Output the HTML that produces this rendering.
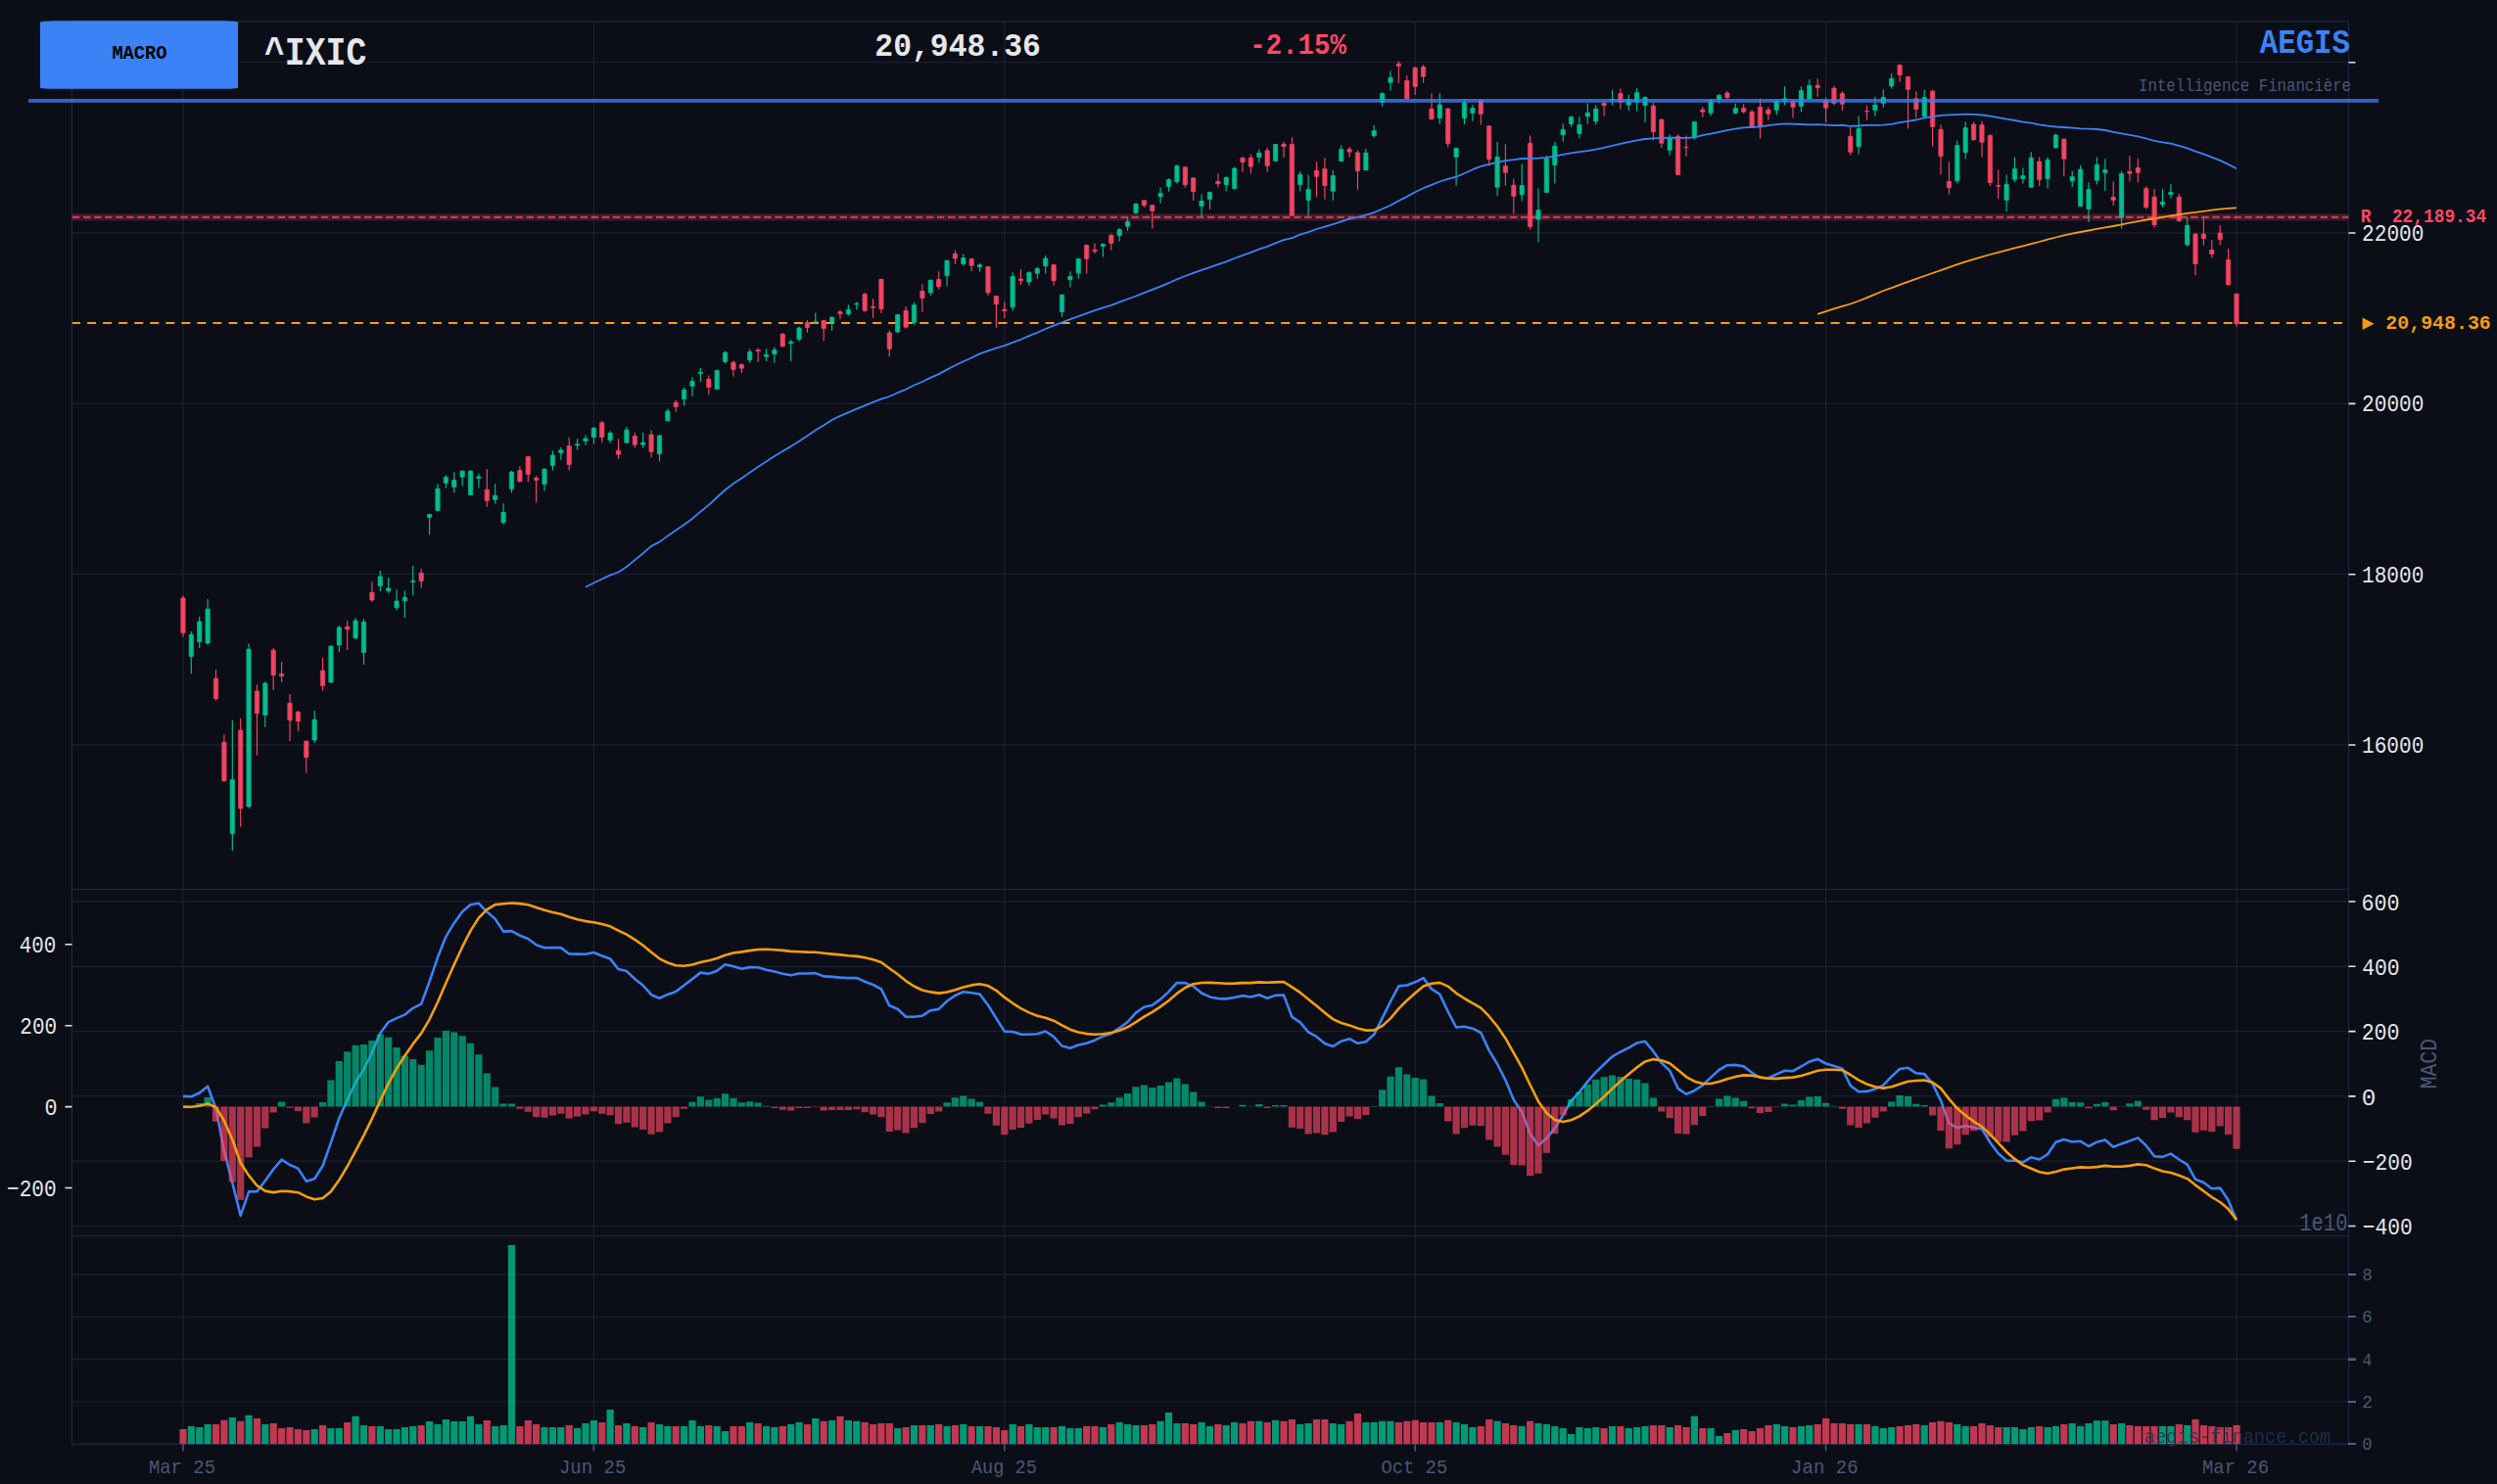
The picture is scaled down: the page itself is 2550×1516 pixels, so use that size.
<!DOCTYPE html>
<html><head><meta charset="utf-8"><style>html,body{margin:0;padding:0;background:#0b0e17;}svg{display:block}</style></head>
<body><svg width="2550" height="1516" viewBox="0 0 2550 1516">
<rect x="0" y="0" width="2550" height="1516" fill="#0b0e17"/>
<defs><clipPath id="c1"><rect x="73.5" y="22.0" width="2325.0" height="886.5"/></clipPath><clipPath id="c2"><rect x="73.5" y="908.5" width="2325.0" height="354.0"/></clipPath><clipPath id="c3"><rect x="73.5" y="1262.5" width="2325.0" height="213.0"/></clipPath></defs>
<path d="M73.5 63.7H2398.5M73.5 238.0H2398.5M73.5 412.4H2398.5M73.5 586.7H2398.5M73.5 761.0H2398.5M73.5 921.0H2398.5M73.5 987.3H2398.5M73.5 1053.6H2398.5M73.5 1119.9H2398.5M73.5 1186.2H2398.5M73.5 1252.5H2398.5M73.5 1475.2H2398.5M73.5 1431.9H2398.5M73.5 1388.6H2398.5M73.5 1345.3H2398.5M73.5 1302.0H2398.5M187.0 22.0V908.5M187.0 908.5V1262.5M187.0 1262.5V1475.5M606.4 22.0V908.5M606.4 908.5V1262.5M606.4 1262.5V1475.5M1025.8 22.0V908.5M1025.8 908.5V1262.5M1025.8 1262.5V1475.5M1445.2 22.0V908.5M1445.2 908.5V1262.5M1445.2 1262.5V1475.5M1864.6 22.0V908.5M1864.6 908.5V1262.5M1864.6 1262.5V1475.5M2284.0 22.0V908.5M2284.0 908.5V1262.5M2284.0 1262.5V1475.5" stroke="#1b1f2e" stroke-width="1.3" fill="none"/>
<rect x="73.5" y="22.0" width="2325.0" height="886.5" fill="none" stroke="#1d2544" stroke-width="1.2"/>
<rect x="73.5" y="908.5" width="2325.0" height="354.0" fill="none" stroke="#1d2544" stroke-width="1.2"/>
<rect x="73.5" y="1262.5" width="2325.0" height="213.0" fill="none" stroke="#1d2544" stroke-width="1.2"/>
<g clip-path="url(#c1)">
<rect x="73.5" y="218.4" width="2325.0" height="7" fill="#ff4766" fill-opacity="0.22"/>
<path d="M73.5 221.9H2398.5" stroke="#ff4766" stroke-opacity="0.72" stroke-width="2.1" stroke-dasharray="7.4 3.637" stroke-dashoffset="-0.5"/>
<path d="M73.5 330.0H2396" stroke="#f59e0b" stroke-width="2.2" stroke-dasharray="9 7.041" stroke-dashoffset="0.46"/>
<path d="M195.3 645.1V688.2M203.7 630.1V661.9M212.1 611.9V658.8M237.3 735.7V869.1M254.1 657.2V825.6M270.8 696.2V742.7M321.2 726.0V758.9M337.9 659.2V697.7M346.3 639.0V665.9M363.1 630.9V652.8M371.5 632.2V679.1M388.3 583.0V603.9M396.7 590.1V605.9M405.1 602.2V623.5M413.4 603.2V630.9M421.8 578.0V607.9M438.6 524.7V546.3M447.0 494.3V522.6M455.4 485.3V498.6M463.8 482.3V503.4M472.2 480.6V496.4M480.5 480.2V506.0M488.9 484.1V498.5M505.7 494.3V514.8M514.1 514.2V535.8M522.5 480.9V503.4M556.0 478.3V501.6M564.4 460.4V480.6M572.8 456.9V469.7M589.6 448.2V459.6M598.0 444.2V454.7M606.4 436.4V453.4M623.1 440.3V452.6M639.9 435.9V452.9M656.7 442.0V457.8M673.5 444.2V471.5M681.9 417.5V430.7M698.6 396.1V414.5M707.0 385.3V404.9M715.4 376.0V390.0M732.2 377.7V397.9M740.6 358.5V371.6M765.7 356.2V370.7M782.5 356.2V369.0M790.9 354.4V370.7M807.7 347.1V369.0M816.1 333.4V348.8M832.8 319.4V329.6M849.6 322.9V338.0M866.4 311.2V322.6M874.8 308.2V315.9M916.7 320.8V340.4M933.5 308.9V331.7M950.3 285.6V301.8M967.1 265.5V292.6M983.8 259.4V271.6M1000.6 269.0V277.7M1034.2 278.3V317.5M1050.9 277.2V291.8M1059.3 272.5V284.8M1067.7 261.1V279.5M1084.5 300.5V323.8M1092.9 277.2V293.5M1101.3 263.7V284.8M1126.4 248.5V262.5M1143.2 233.1V246.7M1151.6 222.6V235.7M1160.0 207.1V218.7M1185.1 191.4V207.7M1193.5 182.3V195.6M1201.9 168.2V187.5M1227.1 198.6V221.3M1235.5 195.6V213.8M1252.2 180.2V195.6M1260.6 170.5V193.8M1285.8 152.5V166.5M1302.6 146.9V164.7M1327.7 175.3V195.6M1336.1 178.4V220.5M1361.3 174.0V204.7M1369.7 148.3V165.3M1394.8 152.1V174.6M1403.2 128.0V140.7M1411.6 94.3V108.7M1420.0 72.4V92.6M1470.3 95.2V126.7M1487.1 150.4V189.8M1495.5 101.3V126.7M1503.9 106.9V123.7M1529.1 145.1V200.3M1554.2 167.5V205.6M1571.0 192.4V247.6M1579.4 158.8V196.8M1587.8 145.1V187.5M1596.2 126.2V144.8M1604.5 118.5V129.7M1612.9 119.2V141.6M1621.3 105.2V126.7M1629.7 107.5V127.6M1646.5 92.2V107.5M1663.3 96.9V112.7M1671.7 89.9V113.6M1680.0 98.2V125.0M1705.2 137.2V158.8M1730.4 123.7V142.5M1747.1 101.3V118.5M1755.5 96.4V105.7M1772.3 105.7V116.7M1814.3 102.2V117.4M1822.6 88.2V107.5M1839.4 88.2V114.5M1847.8 81.2V102.2M1898.1 118.5V157.7M1914.9 98.7V118.8M1923.3 91.2V109.7M1931.7 75.0V90.8M1965.2 91.7V119.7M1998.8 143.4V187.5M2007.2 124.4V162.6M2049.1 178.4V216.1M2057.5 160.5V186.3M2065.9 171.4V187.5M2074.3 155.3V192.1M2091.1 160.5V192.4M2099.4 136.4V151.8M2116.2 174.6V191.0M2124.6 168.8V211.3M2133.0 186.3V227.1M2141.4 160.5V188.6M2149.8 162.3V195.1M2166.6 174.6V233.6M2208.5 193.1V211.7M2216.9 188.0V202.8M2233.7 222.0V251.7" stroke="#00c896" stroke-width="1.1" fill="none"/>
<path d="M193.15 648.22h4.4v22.45h-4.4zM201.54 634.88h4.4v20.83h-4.4zM209.92 622.15h4.4v34.78h-4.4zM235.09 796.20h4.4v55.40h-4.4zM251.86 663.18h4.4v160.72h-4.4zM268.64 697.95h4.4v32.55h-4.4zM318.97 735.15h4.4v20.83h-4.4zM335.75 660.15h4.4v36.80h-4.4zM344.13 640.95h4.4v18.00h-4.4zM360.91 634.07h4.4v17.59h-4.4zM369.30 635.29h4.4v31.34h-4.4zM386.07 588.99h4.4v9.51h-4.4zM394.46 600.92h4.4v2.63h-4.4zM402.85 614.06h4.4v6.68h-4.4zM411.24 610.22h4.4v3.44h-4.4zM419.63 593.44h4.4v1.02h-4.4zM436.40 525.57h4.4v2.90h-4.4zM444.79 499.29h4.4v22.18h-4.4zM453.18 487.38h4.4v6.06h-4.4zM461.57 490.53h4.4v6.93h-4.4zM469.96 481.24h4.4v6.06h-4.4zM478.34 481.24h4.4v24.28h-4.4zM486.73 487.02h4.4v1.50h-4.4zM503.51 506.30h4.4v4.13h-4.4zM511.90 523.47h4.4v10.26h-4.4zM520.28 482.12h4.4v17.45h-4.4zM553.84 479.14h4.4v15.52h-4.4zM562.22 465.12h4.4v10.26h-4.4zM570.61 459.87h4.4v2.55h-4.4zM587.39 453.74h4.4v1.15h-4.4zM595.78 447.95h4.4v2.55h-4.4zM604.16 437.09h4.4v9.56h-4.4zM620.94 442.35h4.4v7.28h-4.4zM637.72 439.19h4.4v13.07h-4.4zM654.49 452.33h4.4v2.03h-4.4zM671.27 444.98h4.4v18.67h-4.4zM679.66 419.92h4.4v9.91h-4.4zM696.43 398.20h4.4v9.56h-4.4zM704.82 389.44h4.4v5.01h-4.4zM713.21 380.33h4.4v1.15h-4.4zM729.99 378.57h4.4v19.02h-4.4zM738.37 360.00h4.4v9.56h-4.4zM763.54 359.30h4.4v8.51h-4.4zM780.32 362.28h4.4v2.03h-4.4zM788.70 357.38h4.4v4.31h-4.4zM805.48 349.14h4.4v1.50h-4.4zM813.87 335.12h4.4v11.31h-4.4zM830.64 328.64h4.4v0.40h-4.4zM847.42 324.26h4.4v5.01h-4.4zM864.20 316.20h4.4v4.66h-4.4zM872.58 310.25h4.4v0.63h-4.4zM914.52 321.46h4.4v17.45h-4.4zM931.30 311.47h4.4v18.15h-4.4zM948.08 286.28h4.4v12.72h-4.4zM964.85 266.31h4.4v15.17h-4.4zM981.63 263.51h4.4v6.06h-4.4zM998.41 270.52h4.4v2.20h-4.4zM1031.96 282.43h4.4v31.29h-4.4zM1048.73 278.40h4.4v9.56h-4.4zM1057.12 274.55h4.4v4.66h-4.4zM1065.51 264.03h4.4v7.63h-4.4zM1082.29 301.35h4.4v17.27h-4.4zM1090.67 282.43h4.4v3.25h-4.4zM1099.06 264.56h4.4v14.12h-4.4zM1124.23 249.49h4.4v2.03h-4.4zM1141.00 234.60h4.4v6.06h-4.4zM1149.39 226.36h4.4v5.01h-4.4zM1157.78 208.49h4.4v8.86h-4.4zM1182.94 197.46h4.4v3.25h-4.4zM1191.33 183.62h4.4v6.76h-4.4zM1199.72 169.42h4.4v16.04h-4.4zM1224.88 205.34h4.4v5.18h-4.4zM1233.27 196.58h4.4v6.93h-4.4zM1250.05 181.34h4.4v7.28h-4.4zM1258.44 172.05h4.4v20.42h-4.4zM1283.60 156.28h4.4v4.31h-4.4zM1300.38 147.52h4.4v16.92h-4.4zM1325.54 178.18h4.4v10.44h-4.4zM1333.93 193.60h4.4v10.79h-4.4zM1359.09 179.59h4.4v15.69h-4.4zM1367.48 152.43h4.4v12.01h-4.4zM1392.65 156.28h4.4v17.45h-4.4zM1401.03 133.51h4.4v5.18h-4.4zM1409.42 95.49h4.4v9.04h-4.4zM1417.81 79.19h4.4v5.18h-4.4zM1468.14 106.88h4.4v13.77h-4.4zM1484.92 151.55h4.4v9.04h-4.4zM1493.30 104.77h4.4v15.87h-4.4zM1501.69 110.38h4.4v5.01h-4.4zM1526.86 160.31h4.4v30.94h-4.4zM1552.02 189.57h4.4v9.21h-4.4zM1568.80 214.63h4.4v9.39h-4.4zM1577.18 162.07h4.4v34.44h-4.4zM1585.57 149.28h4.4v19.20h-4.4zM1593.96 132.28h4.4v5.53h-4.4zM1602.35 119.49h4.4v6.93h-4.4zM1610.74 127.55h4.4v8.86h-4.4zM1619.13 115.29h4.4v3.60h-4.4zM1627.51 111.26h4.4v12.54h-4.4zM1644.29 101.62h4.4v0.40h-4.4zM1661.07 101.62h4.4v5.53h-4.4zM1669.45 94.61h4.4v9.91h-4.4zM1677.84 99.52h4.4v8.16h-4.4zM1703.01 140.52h4.4v13.07h-4.4zM1728.17 124.40h4.4v15.52h-4.4zM1744.95 102.50h4.4v12.89h-4.4zM1753.33 97.24h4.4v4.66h-4.4zM1770.11 110.38h4.4v5.01h-4.4zM1812.05 103.37h4.4v9.04h-4.4zM1820.44 100.74h4.4v2.90h-4.4zM1837.22 92.51h4.4v15.87h-4.4zM1845.60 87.25h4.4v13.77h-4.4zM1895.93 131.40h4.4v18.32h-4.4zM1912.71 107.23h4.4v5.18h-4.4zM1921.10 99.52h4.4v5.88h-4.4zM1929.48 80.25h4.4v7.63h-4.4zM1963.04 99.52h4.4v19.37h-4.4zM1996.59 148.57h4.4v36.19h-4.4zM2004.98 130.53h4.4v25.15h-4.4zM2046.92 188.35h4.4v16.04h-4.4zM2055.31 172.58h4.4v10.79h-4.4zM2063.69 179.59h4.4v2.90h-4.4zM2072.08 161.19h4.4v30.06h-4.4zM2088.86 163.29h4.4v19.20h-4.4zM2097.25 138.06h4.4v12.89h-4.4zM2114.02 180.46h4.4v4.31h-4.4zM2122.41 173.10h4.4v37.42h-4.4zM2130.80 193.60h4.4v19.90h-4.4zM2139.19 168.20h4.4v16.04h-4.4zM2147.58 173.45h4.4v2.90h-4.4zM2164.35 177.31h4.4v44.95h-4.4zM2206.29 206.43h4.4v2.40h-4.4zM2214.68 196.42h4.4v2.40h-4.4zM2231.46 230.34h4.4v19.64h-4.4z" fill="#00c896" fill-opacity="0.9" stroke="#00c896" stroke-width="0.6"/>
<path d="M187.0 608.3V650.8M220.5 684.1V715.8M228.9 750.2V798.7M245.7 734.0V844.8M262.5 699.3V771.6M279.2 661.9V704.9M287.6 676.2V696.8M296.0 709.0V756.9M304.4 726.0V746.8M312.8 756.3V789.8M329.6 672.0V705.7M354.7 634.2V663.9M379.9 594.2V614.8M430.2 581.0V600.6M497.3 479.2V517.7M530.9 476.2V492.9M539.3 466.2V492.5M547.6 486.2V513.5M581.2 447.0V480.6M614.8 430.1V452.6M631.5 448.2V468.7M648.3 442.0V457.5M665.1 439.4V467.5M690.2 408.4V420.7M723.8 383.5V403.5M749.0 368.5V384.8M757.4 371.3V380.7M774.1 355.5V369.9M799.3 340.1V354.4M824.5 326.9V339.7M841.2 326.9V348.0M858.0 316.4V325.7M883.2 298.9V318.7M891.6 305.0V324.7M899.9 284.9V319.9M908.3 337.5V364.6M925.1 312.9V335.7M941.9 290.5V318.9M958.7 277.2V295.8M975.4 255.5V269.9M992.2 263.7V276.9M1009.0 272.0V301.8M1017.4 301.8V334.7M1025.8 308.4V325.1M1042.5 275.1V290.9M1076.1 269.9V291.8M1109.7 249.7V279.5M1118.0 248.5V259.0M1134.8 238.7V255.8M1168.4 204.2V211.7M1176.8 208.9V233.4M1210.3 170.0V191.5M1218.7 181.0V204.7M1243.9 177.5V191.5M1269.0 160.5V175.8M1277.4 157.4V177.5M1294.2 150.7V175.8M1311.0 145.1V160.9M1319.4 140.2V220.8M1344.5 165.3V201.2M1352.9 161.2V203.8M1378.1 150.0V160.5M1386.5 153.5V193.8M1428.4 62.4V84.7M1436.8 77.1V101.0M1445.2 68.0V96.9M1453.6 66.3V84.7M1462.0 95.2V122.3M1478.7 110.1V150.4M1512.3 101.7V127.6M1520.7 128.0V169.6M1537.4 147.2V189.8M1545.8 182.8V218.4M1562.6 138.5V234.5M1638.1 103.1V118.8M1654.9 90.5V111.5M1688.4 104.8V143.4M1696.8 120.9V150.7M1713.6 137.2V179.3M1722.0 138.5V160.0M1738.8 109.2V119.7M1763.9 92.9V101.0M1780.7 106.2V115.7M1789.1 112.2V130.8M1797.5 100.4V141.6M1805.9 109.2V122.7M1831.0 102.2V120.6M1856.2 80.6V98.7M1864.6 99.6V125.0M1873.0 87.7V107.5M1881.4 92.9V112.7M1889.7 130.2V158.8M1906.5 107.5V122.7M1940.1 65.4V83.8M1948.5 77.7V131.5M1956.8 93.4V120.6M1973.6 91.7V149.5M1982.0 127.6V178.4M1990.4 165.3V198.6M2015.6 124.4V143.7M2024.0 123.7V160.5M2032.3 137.2V190.3M2040.7 173.5V203.3M2082.7 160.5V190.3M2107.8 141.3V180.2M2158.2 185.4V209.9M2174.9 159.1V185.4M2183.3 162.3V186.3M2191.7 190.3V213.4M2200.1 193.1V232.8M2225.3 198.0V226.7M2242.0 238.0V281.0M2250.4 222.0V250.6M2258.8 245.1V263.6M2267.2 230.0V250.6M2275.6 253.9V291.8M2284.0 299.9V333.7" stroke="#ff4766" stroke-width="1.1" fill="none"/>
<path d="M184.76 611.03h4.4v35.38h-4.4zM218.31 693.10h4.4v20.63h-4.4zM226.70 758.20h4.4v39.43h-4.4zM243.48 746.07h4.4v79.86h-4.4zM260.25 706.04h4.4v22.65h-4.4zM277.03 664.19h4.4v25.68h-4.4zM285.42 688.45h4.4v2.23h-4.4zM293.81 718.37h4.4v17.39h-4.4zM302.19 727.27h4.4v9.51h-4.4zM310.58 757.19h4.4v16.58h-4.4zM327.36 685.02h4.4v15.57h-4.4zM352.52 640.14h4.4v2.63h-4.4zM377.69 605.37h4.4v7.69h-4.4zM428.01 585.35h4.4v8.09h-4.4zM495.12 500.17h4.4v11.31h-4.4zM528.67 480.54h4.4v11.14h-4.4zM537.06 466.53h4.4v17.97h-4.4zM545.45 488.25h4.4v2.20h-4.4zM579.00 455.49h4.4v19.02h-4.4zM612.55 431.84h4.4v14.82h-4.4zM629.33 460.22h4.4v3.96h-4.4zM646.11 445.50h4.4v8.86h-4.4zM662.88 444.10h4.4v17.27h-4.4zM688.05 411.34h4.4v4.13h-4.4zM721.60 387.33h4.4v8.16h-4.4zM746.76 370.17h4.4v7.28h-4.4zM755.15 372.44h4.4v3.78h-4.4zM771.93 357.55h4.4v1.15h-4.4zM797.09 341.26h4.4v12.54h-4.4zM822.26 329.52h4.4v5.01h-4.4zM839.03 327.42h4.4v8.16h-4.4zM855.81 318.48h4.4v2.03h-4.4zM880.97 300.43h4.4v16.92h-4.4zM889.36 313.22h4.4v1.15h-4.4zM897.75 285.37h4.4v30.24h-4.4zM906.14 340.03h4.4v16.39h-4.4zM922.91 317.25h4.4v16.92h-4.4zM939.69 297.32h4.4v7.28h-4.4zM956.47 285.58h4.4v7.11h-4.4zM973.24 259.30h4.4v4.66h-4.4zM990.02 264.56h4.4v6.76h-4.4zM1006.79 272.44h4.4v26.56h-4.4zM1015.18 302.58h4.4v8.16h-4.4zM1023.57 316.07h4.4v1.33h-4.4zM1040.35 285.06h4.4v1.68h-4.4zM1073.90 270.52h4.4v16.22h-4.4zM1107.45 250.54h4.4v13.77h-4.4zM1115.84 255.27h4.4v1.50h-4.4zM1132.62 240.38h4.4v8.16h-4.4zM1166.17 204.81h4.4v4.83h-4.4zM1174.56 209.72h4.4v5.88h-4.4zM1208.11 170.83h4.4v17.80h-4.4zM1216.50 181.86h4.4v13.77h-4.4zM1241.66 185.37h4.4v2.38h-4.4zM1266.82 161.19h4.4v4.31h-4.4zM1275.21 161.19h4.4v9.04h-4.4zM1291.99 153.83h4.4v15.52h-4.4zM1308.77 147.17h4.4v2.55h-4.4zM1317.15 147.52h4.4v72.63h-4.4zM1342.32 174.33h4.4v5.88h-4.4zM1350.71 172.58h4.4v16.92h-4.4zM1375.87 152.43h4.4v2.90h-4.4zM1384.26 155.93h4.4v18.67h-4.4zM1426.20 65.18h4.4v2.20h-4.4zM1434.59 82.35h4.4v18.32h-4.4zM1442.97 69.21h4.4v19.20h-4.4zM1451.36 68.33h4.4v9.91h-4.4zM1459.75 111.26h4.4v10.44h-4.4zM1476.53 111.26h4.4v35.32h-4.4zM1510.08 102.50h4.4v13.94h-4.4zM1518.47 128.78h4.4v33.91h-4.4zM1535.24 169.60h4.4v6.76h-4.4zM1543.63 189.22h4.4v11.31h-4.4zM1560.41 146.30h4.4v85.25h-4.4zM1635.90 105.48h4.4v2.20h-4.4zM1652.68 95.49h4.4v8.69h-4.4zM1686.23 108.28h4.4v26.38h-4.4zM1694.62 122.29h4.4v23.93h-4.4zM1711.39 139.29h4.4v39.17h-4.4zM1719.78 150.33h4.4v0.40h-4.4zM1736.56 112.13h4.4v2.03h-4.4zM1761.72 94.96h4.4v4.66h-4.4zM1778.50 110.38h4.4v3.78h-4.4zM1786.89 114.24h4.4v16.22h-4.4zM1795.28 109.50h4.4v20.42h-4.4zM1803.66 112.13h4.4v4.31h-4.4zM1828.83 103.72h4.4v5.71h-4.4zM1853.99 87.25h4.4v2.38h-4.4zM1862.38 102.50h4.4v7.63h-4.4zM1870.77 90.23h4.4v15.17h-4.4zM1879.16 95.49h4.4v10.79h-4.4zM1887.54 139.29h4.4v16.04h-4.4zM1904.32 113.53h4.4v0.40h-4.4zM1937.87 66.58h4.4v9.91h-4.4zM1946.26 78.49h4.4v12.89h-4.4zM1954.65 100.74h4.4v10.79h-4.4zM1971.43 93.21h4.4v36.19h-4.4zM1979.81 132.28h4.4v27.43h-4.4zM1988.20 185.37h4.4v6.41h-4.4zM2013.37 127.02h4.4v15.69h-4.4zM2021.75 127.55h4.4v17.62h-4.4zM2030.14 138.41h4.4v48.11h-4.4zM2038.53 189.57h4.4v0.80h-4.4zM2080.47 165.04h4.4v18.67h-4.4zM2105.63 142.27h4.4v20.07h-4.4zM2155.96 201.49h4.4v2.90h-4.4zM2172.74 175.21h4.4v2.03h-4.4zM2181.13 171.35h4.4v5.01h-4.4zM2189.52 192.38h4.4v19.37h-4.4zM2197.90 201.21h4.4v28.53h-4.4zM2223.07 201.21h4.4v24.31h-4.4zM2239.84 239.23h4.4v30.31h-4.4zM2248.23 239.23h4.4v4.40h-4.4zM2256.62 255.36h4.4v4.18h-4.4zM2265.01 238.12h4.4v6.63h-4.4zM2273.40 265.37h4.4v25.53h-4.4zM2281.79 300.17h4.4v30.54h-4.4z" fill="#ff4766" fill-opacity="0.9" stroke="#ff4766" stroke-width="0.6"/>
<polyline points="598.0,599.7 606.4,595.5 614.8,591.5 623.1,587.6 631.5,584.5 639.9,579.0 648.3,572.1 656.7,565.2 665.1,557.9 673.5,553.6 681.9,547.4 690.2,541.7 698.6,535.9 707.0,529.9 715.4,522.7 723.8,515.9 732.2,508.0 740.6,500.5 749.0,494.0 757.4,488.4 765.7,482.7 774.1,477.0 782.5,471.6 790.9,466.1 799.3,460.9 807.7,456.1 816.1,450.8 824.5,445.2 832.8,439.5 841.2,434.4 849.6,429.0 858.0,424.9 866.4,421.3 874.8,417.7 883.2,414.3 891.6,410.9 899.9,407.6 908.3,405.0 916.7,401.2 925.1,397.8 933.5,393.5 941.9,390.0 950.3,385.9 958.7,382.1 967.1,377.6 975.4,373.3 983.8,369.2 992.2,365.5 1000.6,361.4 1009.0,358.3 1017.4,355.6 1025.8,353.2 1034.2,349.9 1042.5,346.8 1050.9,343.1 1059.3,339.8 1067.7,336.0 1076.1,332.7 1084.5,329.4 1092.9,326.2 1101.3,323.1 1109.7,320.1 1118.0,317.2 1126.4,314.4 1134.8,311.8 1143.2,308.6 1151.6,305.5 1160.0,302.5 1168.4,299.2 1176.8,295.9 1185.1,292.7 1193.5,289.2 1201.9,285.3 1210.3,282.0 1218.7,278.8 1227.1,275.9 1235.5,273.2 1243.9,270.2 1252.2,267.3 1260.6,264.0 1269.0,260.8 1277.4,257.8 1285.8,254.6 1294.2,251.8 1302.6,248.4 1311.0,245.1 1319.4,243.2 1327.7,239.6 1336.1,237.1 1344.5,234.0 1352.9,231.6 1361.3,229.1 1369.7,226.4 1378.1,223.6 1386.5,221.8 1394.8,219.7 1403.2,217.1 1411.6,213.5 1420.0,209.7 1428.4,205.1 1436.8,200.9 1445.2,196.3 1453.6,192.2 1462.0,188.9 1470.3,185.5 1478.7,182.9 1487.1,180.7 1495.5,177.0 1503.9,173.2 1512.3,169.9 1520.7,167.9 1529.1,165.8 1537.4,164.2 1545.8,163.2 1554.2,162.0 1562.6,162.0 1571.0,161.7 1579.4,160.8 1587.8,159.6 1596.2,157.9 1604.5,156.4 1612.9,155.2 1621.3,154.1 1629.7,152.6 1638.1,150.8 1646.5,148.8 1654.9,146.9 1663.3,145.2 1671.7,143.4 1680.0,142.0 1688.4,141.4 1696.8,140.9 1705.2,140.6 1713.6,140.8 1722.0,140.8 1730.4,140.3 1738.8,138.2 1747.1,136.7 1755.5,134.8 1763.9,133.1 1772.3,131.6 1780.7,130.3 1789.1,129.8 1797.5,129.3 1805.9,128.2 1814.3,127.1 1822.6,126.4 1831.0,126.7 1839.4,127.0 1847.8,127.4 1856.2,127.2 1864.6,127.6 1873.0,128.1 1881.4,127.8 1889.7,128.8 1898.1,128.5 1906.5,127.8 1914.9,127.8 1923.3,127.6 1931.7,126.9 1940.1,125.1 1948.5,123.8 1956.8,122.5 1965.2,120.4 1973.6,119.2 1982.0,117.8 1990.4,117.4 1998.8,117.1 2007.2,116.7 2015.6,116.9 2024.0,117.5 2032.3,118.7 2040.7,120.2 2049.1,121.7 2057.5,123.0 2065.9,124.6 2074.3,125.7 2082.7,127.3 2091.1,128.7 2099.4,129.5 2107.8,130.0 2116.2,130.7 2124.6,131.4 2133.0,131.6 2141.4,132.0 2149.8,133.0 2158.2,134.8 2166.6,136.3 2174.9,137.9 2183.3,139.4 2191.7,141.5 2200.1,143.8 2208.5,145.3 2216.9,146.6 2225.3,148.8 2233.7,151.3 2242.0,154.7 2250.4,157.4 2258.8,160.7 2267.2,163.9 2275.6,167.9 2284.0,172.3" fill="none" stroke="#3b82f6" stroke-width="1.8" stroke-linejoin="round"/>
<polyline points="1856.2,320.8 1864.6,318.1 1873.0,315.4 1881.4,312.8 1889.7,310.5 1898.1,307.5 1906.5,304.1 1914.9,300.7 1923.3,297.0 1931.7,294.1 1940.1,290.9 1948.5,287.8 1956.8,284.9 1965.2,282.0 1973.6,279.0 1982.0,276.1 1990.4,273.2 1998.8,270.2 2007.2,267.4 2015.6,264.8 2024.0,262.3 2032.3,260.0 2040.7,257.8 2049.1,255.6 2057.5,253.4 2065.9,251.3 2074.3,249.1 2082.7,247.0 2091.1,244.7 2099.4,242.5 2107.8,240.3 2116.2,238.6 2124.6,237.0 2133.0,235.5 2141.4,233.9 2149.8,232.3 2158.2,231.0 2166.6,229.4 2174.9,227.7 2183.3,226.1 2191.7,224.5 2200.1,223.3 2208.5,221.8 2216.9,220.4 2225.3,219.1 2233.7,217.8 2242.0,216.9 2250.4,215.8 2258.8,214.7 2267.2,213.7 2275.6,212.9 2284.0,212.4" fill="none" stroke="#f59e0b" stroke-width="1.8" stroke-linejoin="round"/>
</g>
<g clip-path="url(#c2)">
<polyline points="187.0,1119.9 195.3,1120.3 203.7,1116.5 212.1,1109.7 220.5,1132.5 228.9,1175.7 237.3,1208.2 245.7,1241.9 254.1,1217.4 262.5,1217.1 270.8,1206.3 279.2,1194.5 287.6,1184.7 296.0,1190.0 304.4,1193.6 312.8,1206.8 321.2,1204.3 329.6,1191.0 337.9,1167.4 346.3,1142.5 354.7,1123.5 363.1,1105.7 371.5,1092.4 379.9,1075.6 388.3,1055.5 396.7,1044.1 405.1,1040.1 413.4,1036.6 421.8,1029.8 430.2,1025.6 438.6,1002.7 447.0,978.1 455.4,956.8 463.8,942.9 472.2,931.3 480.5,924.3 488.9,922.8 497.3,931.5 505.7,938.7 514.1,951.6 522.5,951.1 530.9,955.7 539.3,959.0 547.6,965.2 556.0,968.2 564.4,968.1 572.8,968.1 581.2,974.5 589.6,974.6 598.0,974.7 606.4,973.0 614.8,976.5 623.1,979.4 631.5,990.1 639.9,992.1 648.3,1000.0 656.7,1006.7 665.1,1016.2 673.5,1019.7 681.9,1015.9 690.2,1013.0 698.6,1006.5 707.0,1000.1 715.4,993.6 723.8,994.8 732.2,991.8 740.6,985.3 749.0,987.2 757.4,989.8 765.7,988.1 774.1,988.2 782.5,990.7 790.9,992.6 799.3,994.7 807.7,996.2 816.1,994.5 824.5,994.5 832.8,994.1 841.2,997.4 849.6,997.9 858.0,998.6 866.4,999.1 874.8,999.0 883.2,1002.7 891.6,1006.0 899.9,1010.3 908.3,1027.3 916.7,1030.8 925.1,1038.7 933.5,1038.7 941.9,1037.7 950.3,1032.2 958.7,1030.9 967.1,1022.8 975.4,1017.0 983.8,1013.3 992.2,1014.2 1000.6,1015.6 1009.0,1026.8 1017.4,1040.2 1025.8,1053.6 1034.2,1054.0 1042.5,1056.6 1050.9,1056.7 1059.3,1056.3 1067.7,1053.5 1076.1,1059.1 1084.5,1068.5 1092.9,1070.7 1101.3,1067.5 1109.7,1065.8 1118.0,1062.7 1126.4,1058.6 1134.8,1055.9 1143.2,1050.2 1151.6,1044.0 1160.0,1034.6 1168.4,1028.7 1176.8,1026.9 1185.1,1020.9 1193.5,1013.1 1201.9,1004.0 1210.3,1004.1 1218.7,1007.6 1227.1,1014.5 1235.5,1018.4 1243.9,1020.1 1252.2,1020.4 1260.6,1019.0 1269.0,1017.2 1277.4,1018.5 1285.8,1016.2 1294.2,1019.7 1302.6,1016.8 1311.0,1016.6 1319.4,1038.9 1327.7,1044.4 1336.1,1054.3 1344.5,1058.9 1352.9,1066.0 1361.3,1069.0 1369.7,1063.7 1378.1,1061.2 1386.5,1065.8 1394.8,1064.3 1403.2,1056.8 1411.6,1040.2 1420.0,1023.1 1428.4,1007.4 1436.8,1006.5 1445.2,1003.3 1453.6,999.1 1462.0,1010.4 1470.3,1015.7 1478.7,1033.4 1487.1,1049.5 1495.5,1048.8 1503.9,1050.7 1512.3,1055.0 1520.7,1073.1 1529.1,1087.0 1537.4,1103.3 1545.8,1123.5 1554.2,1135.9 1562.6,1158.3 1571.0,1170.1 1579.4,1162.8 1587.8,1152.7 1596.2,1139.3 1604.5,1124.7 1612.9,1115.6 1621.3,1104.9 1629.7,1095.4 1638.1,1087.3 1646.5,1079.4 1654.9,1074.5 1663.3,1070.3 1671.7,1065.5 1680.0,1063.8 1688.4,1073.9 1696.8,1085.9 1705.2,1093.8 1713.6,1111.9 1722.0,1117.7 1730.4,1114.2 1738.8,1108.6 1747.1,1100.6 1755.5,1093.0 1763.9,1088.2 1772.3,1087.9 1780.7,1089.4 1789.1,1095.8 1797.5,1101.0 1805.9,1101.2 1814.3,1097.4 1822.6,1093.8 1831.0,1094.2 1839.4,1089.5 1847.8,1084.5 1856.2,1081.9 1864.6,1086.5 1873.0,1089.1 1881.4,1091.7 1889.7,1109.0 1898.1,1115.2 1906.5,1114.9 1914.9,1112.6 1923.3,1108.6 1931.7,1099.7 1940.1,1092.0 1948.5,1090.8 1956.8,1096.3 1965.2,1097.1 1973.6,1107.2 1982.0,1124.4 1990.4,1147.6 1998.8,1152.2 2007.2,1149.9 2015.6,1151.7 2024.0,1153.4 2032.3,1167.0 2040.7,1178.2 2049.1,1185.6 2057.5,1185.8 2065.9,1187.4 2074.3,1182.2 2082.7,1184.5 2091.1,1179.2 2099.4,1166.7 2107.8,1163.9 2116.2,1166.5 2124.6,1165.8 2133.0,1171.0 2141.4,1166.7 2149.8,1164.4 2158.2,1171.7 2166.6,1168.4 2174.9,1165.5 2183.3,1162.4 2191.7,1170.2 2200.1,1181.2 2208.5,1181.9 2216.9,1178.6 2225.3,1184.5 2233.7,1189.6 2242.0,1204.8 2250.4,1208.0 2258.8,1214.3 2267.2,1213.6 2275.6,1226.1 2284.0,1246.7" fill="none" stroke="#3b82f6" stroke-width="2.6" stroke-linejoin="round"/>
<path d="M183.4 1130.6h7.2v0.0h-7.2zM200.1 1127.1h7.2v3.5h-7.2zM208.5 1121.0h7.2v9.6h-7.2zM284.0 1125.4h7.2v5.2h-7.2zM326.0 1126.1h7.2v4.5h-7.2zM334.3 1103.4h7.2v27.2h-7.2zM342.7 1083.9h7.2v46.7h-7.2zM351.1 1074.2h7.2v56.4h-7.2zM359.5 1067.7h7.2v62.9h-7.2zM367.9 1066.9h7.2v63.7h-7.2zM376.3 1062.9h7.2v67.7h-7.2zM384.7 1056.4h7.2v74.2h-7.2zM393.1 1059.8h7.2v70.8h-7.2zM401.5 1069.9h7.2v60.7h-7.2zM409.8 1078.6h7.2v52.0h-7.2zM418.2 1082.1h7.2v48.5h-7.2zM426.6 1087.7h7.2v42.9h-7.2zM435.0 1073.3h7.2v57.3h-7.2zM443.4 1060.1h7.2v70.5h-7.2zM451.8 1052.9h7.2v77.7h-7.2zM460.2 1054.6h7.2v76.0h-7.2zM468.6 1058.2h7.2v72.4h-7.2zM476.9 1065.7h7.2v64.9h-7.2zM485.3 1077.2h7.2v53.4h-7.2zM493.7 1096.5h7.2v34.1h-7.2zM502.1 1110.5h7.2v20.1h-7.2zM510.5 1127.5h7.2v3.1h-7.2zM518.9 1127.6h7.2v3.0h-7.2zM703.4 1125.8h7.2v4.8h-7.2zM711.8 1120.3h7.2v10.3h-7.2zM720.2 1123.5h7.2v7.1h-7.2zM728.6 1122.0h7.2v8.6h-7.2zM737.0 1117.2h7.2v13.4h-7.2zM745.4 1121.8h7.2v8.8h-7.2zM753.8 1126.2h7.2v4.4h-7.2zM762.1 1125.3h7.2v5.3h-7.2zM770.5 1126.5h7.2v4.1h-7.2zM778.9 1129.8h7.2v0.8h-7.2zM963.5 1126.3h7.2v4.3h-7.2zM971.8 1121.3h7.2v9.3h-7.2zM980.2 1119.5h7.2v11.1h-7.2zM988.6 1122.6h7.2v8.0h-7.2zM997.0 1125.7h7.2v4.9h-7.2zM1122.8 1128.4h7.2v2.2h-7.2zM1131.2 1126.2h7.2v4.4h-7.2zM1139.6 1121.3h7.2v9.3h-7.2zM1148.0 1117.0h7.2v13.6h-7.2zM1156.4 1110.3h7.2v20.3h-7.2zM1164.8 1108.4h7.2v22.2h-7.2zM1173.2 1111.1h7.2v19.5h-7.2zM1181.5 1109.0h7.2v21.6h-7.2zM1189.9 1105.5h7.2v25.1h-7.2zM1198.3 1101.4h7.2v29.2h-7.2zM1206.7 1107.4h7.2v23.2h-7.2zM1215.1 1115.6h7.2v15.0h-7.2zM1223.5 1125.4h7.2v5.2h-7.2zM1231.9 1130.3h7.2v0.3h-7.2zM1257.0 1130.4h7.2v0.2h-7.2zM1265.4 1128.7h7.2v1.9h-7.2zM1273.8 1130.3h7.2v0.3h-7.2zM1282.2 1128.1h7.2v2.5h-7.2zM1299.0 1128.9h7.2v1.7h-7.2zM1307.4 1129.0h7.2v1.6h-7.2zM1399.6 1129.9h7.2v0.7h-7.2zM1408.0 1113.3h7.2v17.3h-7.2zM1416.4 1099.7h7.2v30.9h-7.2zM1424.8 1090.2h7.2v40.4h-7.2zM1433.2 1097.4h7.2v33.2h-7.2zM1441.6 1100.9h7.2v29.7h-7.2zM1450.0 1102.6h7.2v28.0h-7.2zM1458.4 1119.5h7.2v11.1h-7.2zM1466.7 1127.1h7.2v3.5h-7.2zM1600.9 1123.0h7.2v7.6h-7.2zM1609.3 1115.4h7.2v15.2h-7.2zM1617.7 1107.7h7.2v22.9h-7.2zM1626.1 1102.8h7.2v27.8h-7.2zM1634.5 1100.3h7.2v30.3h-7.2zM1642.9 1098.4h7.2v32.2h-7.2zM1651.3 1100.0h7.2v30.6h-7.2zM1659.7 1101.9h7.2v28.7h-7.2zM1668.1 1102.8h7.2v27.8h-7.2zM1676.4 1106.6h7.2v24.0h-7.2zM1684.8 1121.6h7.2v9.0h-7.2zM1743.5 1130.1h7.2v0.5h-7.2zM1751.9 1122.6h7.2v8.0h-7.2zM1760.3 1119.4h7.2v11.2h-7.2zM1768.7 1121.4h7.2v9.2h-7.2zM1777.1 1124.7h7.2v5.9h-7.2zM1819.0 1127.5h7.2v3.1h-7.2zM1827.4 1128.5h7.2v2.1h-7.2zM1835.8 1124.1h7.2v6.5h-7.2zM1844.2 1120.5h7.2v10.1h-7.2zM1852.6 1119.9h7.2v10.7h-7.2zM1861.0 1126.7h7.2v3.9h-7.2zM1869.4 1130.0h7.2v0.6h-7.2zM1928.1 1125.6h7.2v5.0h-7.2zM1936.5 1118.9h7.2v11.7h-7.2zM1944.9 1120.1h7.2v10.5h-7.2zM1953.2 1127.7h7.2v2.9h-7.2zM1961.6 1129.0h7.2v1.6h-7.2zM2095.8 1122.8h7.2v7.8h-7.2zM2104.2 1121.6h7.2v9.0h-7.2zM2112.6 1126.0h7.2v4.6h-7.2zM2121.0 1126.2h7.2v4.4h-7.2zM2137.8 1127.7h7.2v2.9h-7.2zM2146.2 1126.0h7.2v4.6h-7.2zM2163.0 1130.2h7.2v0.4h-7.2zM2171.3 1127.3h7.2v3.3h-7.2zM2179.7 1124.8h7.2v5.8h-7.2z" fill="#00c896" fill-opacity="0.65"/>
<path d="M191.7 1130.6h7.2v0.4h-7.2zM216.9 1130.6h7.2v15.1h-7.2zM225.3 1130.6h7.2v55.3h-7.2zM233.7 1130.6h7.2v76.8h-7.2zM242.1 1130.6h7.2v95.1h-7.2zM250.5 1130.6h7.2v51.6h-7.2zM258.9 1130.6h7.2v41.0h-7.2zM267.2 1130.6h7.2v21.9h-7.2zM275.6 1130.6h7.2v5.8h-7.2zM292.4 1130.6h7.2v1.1h-7.2zM300.8 1130.6h7.2v4.5h-7.2zM309.2 1130.6h7.2v16.9h-7.2zM317.6 1130.6h7.2v11.0h-7.2zM527.3 1130.6h7.2v2.2h-7.2zM535.7 1130.6h7.2v5.1h-7.2zM544.0 1130.6h7.2v10.3h-7.2zM552.4 1130.6h7.2v11.2h-7.2zM560.8 1130.6h7.2v8.8h-7.2zM569.2 1130.6h7.2v7.1h-7.2zM577.6 1130.6h7.2v12.0h-7.2zM586.0 1130.6h7.2v9.8h-7.2zM594.4 1130.6h7.2v7.9h-7.2zM602.8 1130.6h7.2v4.7h-7.2zM611.2 1130.6h7.2v7.2h-7.2zM619.5 1130.6h7.2v8.7h-7.2zM627.9 1130.6h7.2v17.6h-7.2zM636.3 1130.6h7.2v16.1h-7.2zM644.7 1130.6h7.2v20.8h-7.2zM653.1 1130.6h7.2v23.4h-7.2zM661.5 1130.6h7.2v28.2h-7.2zM669.9 1130.6h7.2v26.0h-7.2zM678.3 1130.6h7.2v17.0h-7.2zM686.6 1130.6h7.2v10.7h-7.2zM695.0 1130.6h7.2v2.1h-7.2zM787.3 1130.6h7.2v1.3h-7.2zM795.7 1130.6h7.2v3.1h-7.2zM804.1 1130.6h7.2v3.9h-7.2zM812.5 1130.6h7.2v1.5h-7.2zM820.9 1130.6h7.2v1.3h-7.2zM829.2 1130.6h7.2v0.5h-7.2zM837.6 1130.6h7.2v3.8h-7.2zM846.0 1130.6h7.2v3.4h-7.2zM854.4 1130.6h7.2v3.5h-7.2zM862.8 1130.6h7.2v3.3h-7.2zM871.2 1130.6h7.2v2.6h-7.2zM879.6 1130.6h7.2v5.7h-7.2zM888.0 1130.6h7.2v7.9h-7.2zM896.3 1130.6h7.2v10.6h-7.2zM904.7 1130.6h7.2v25.5h-7.2zM913.1 1130.6h7.2v23.9h-7.2zM921.5 1130.6h7.2v27.0h-7.2zM929.9 1130.6h7.2v21.6h-7.2zM938.3 1130.6h7.2v16.3h-7.2zM946.7 1130.6h7.2v7.5h-7.2zM955.1 1130.6h7.2v4.8h-7.2zM1005.4 1130.6h7.2v7.2h-7.2zM1013.8 1130.6h7.2v19.1h-7.2zM1022.2 1130.6h7.2v28.7h-7.2zM1030.6 1130.6h7.2v23.4h-7.2zM1038.9 1130.6h7.2v21.3h-7.2zM1047.3 1130.6h7.2v17.1h-7.2zM1055.7 1130.6h7.2v13.3h-7.2zM1064.1 1130.6h7.2v7.9h-7.2zM1072.5 1130.6h7.2v11.9h-7.2zM1080.9 1130.6h7.2v18.9h-7.2zM1089.3 1130.6h7.2v17.3h-7.2zM1097.7 1130.6h7.2v10.7h-7.2zM1106.1 1130.6h7.2v6.8h-7.2zM1114.4 1130.6h7.2v2.4h-7.2zM1240.3 1130.6h7.2v1.5h-7.2zM1248.6 1130.6h7.2v1.5h-7.2zM1290.6 1130.6h7.2v1.5h-7.2zM1315.8 1130.6h7.2v21.1h-7.2zM1324.1 1130.6h7.2v22.4h-7.2zM1332.5 1130.6h7.2v27.8h-7.2zM1340.9 1130.6h7.2v26.8h-7.2zM1349.3 1130.6h7.2v28.6h-7.2zM1357.7 1130.6h7.2v25.8h-7.2zM1366.1 1130.6h7.2v15.4h-7.2zM1374.5 1130.6h7.2v9.8h-7.2zM1382.9 1130.6h7.2v12.5h-7.2zM1391.2 1130.6h7.2v8.4h-7.2zM1475.1 1130.6h7.2v14.8h-7.2zM1483.5 1130.6h7.2v28.0h-7.2zM1491.9 1130.6h7.2v21.6h-7.2zM1500.3 1130.6h7.2v19.2h-7.2zM1508.7 1130.6h7.2v19.7h-7.2zM1517.1 1130.6h7.2v33.9h-7.2zM1525.5 1130.6h7.2v41.0h-7.2zM1533.8 1130.6h7.2v49.1h-7.2zM1542.2 1130.6h7.2v59.5h-7.2zM1550.6 1130.6h7.2v60.0h-7.2zM1559.0 1130.6h7.2v70.4h-7.2zM1567.4 1130.6h7.2v68.1h-7.2zM1575.8 1130.6h7.2v47.2h-7.2zM1584.2 1130.6h7.2v27.7h-7.2zM1592.6 1130.6h7.2v8.7h-7.2zM1693.2 1130.6h7.2v4.8h-7.2zM1701.6 1130.6h7.2v11.7h-7.2zM1710.0 1130.6h7.2v27.5h-7.2zM1718.4 1130.6h7.2v27.8h-7.2zM1726.8 1130.6h7.2v18.7h-7.2zM1735.2 1130.6h7.2v9.4h-7.2zM1785.5 1130.6h7.2v1.7h-7.2zM1793.9 1130.6h7.2v6.5h-7.2zM1802.3 1130.6h7.2v5.4h-7.2zM1810.7 1130.6h7.2v0.5h-7.2zM1877.8 1130.6h7.2v2.2h-7.2zM1886.1 1130.6h7.2v19.0h-7.2zM1894.5 1130.6h7.2v21.4h-7.2zM1902.9 1130.6h7.2v16.8h-7.2zM1911.3 1130.6h7.2v11.2h-7.2zM1919.7 1130.6h7.2v4.9h-7.2zM1970.0 1130.6h7.2v8.8h-7.2zM1978.4 1130.6h7.2v24.3h-7.2zM1986.8 1130.6h7.2v42.7h-7.2zM1995.2 1130.6h7.2v38.7h-7.2zM2003.6 1130.6h7.2v28.7h-7.2zM2012.0 1130.6h7.2v24.7h-7.2zM2020.4 1130.6h7.2v21.5h-7.2zM2028.7 1130.6h7.2v30.8h-7.2zM2037.1 1130.6h7.2v35.9h-7.2zM2045.5 1130.6h7.2v36.0h-7.2zM2053.9 1130.6h7.2v29.1h-7.2zM2062.3 1130.6h7.2v24.8h-7.2zM2070.7 1130.6h7.2v14.7h-7.2zM2079.1 1130.6h7.2v14.0h-7.2zM2087.5 1130.6h7.2v5.9h-7.2zM2129.4 1130.6h7.2v1.7h-7.2zM2154.6 1130.6h7.2v3.6h-7.2zM2188.1 1130.6h7.2v3.2h-7.2zM2196.5 1130.6h7.2v13.6h-7.2zM2204.9 1130.6h7.2v11.5h-7.2zM2213.3 1130.6h7.2v6.0h-7.2zM2221.7 1130.6h7.2v10.6h-7.2zM2230.1 1130.6h7.2v13.6h-7.2zM2238.4 1130.6h7.2v26.2h-7.2zM2246.8 1130.6h7.2v24.1h-7.2zM2255.2 1130.6h7.2v25.6h-7.2zM2263.6 1130.6h7.2v19.8h-7.2zM2272.0 1130.6h7.2v28.3h-7.2zM2280.4 1130.6h7.2v43.2h-7.2z" fill="#ff4766" fill-opacity="0.65"/>
<polyline points="187.0,1130.6 195.3,1130.7 203.7,1129.8 212.1,1127.4 220.5,1131.2 228.9,1145.0 237.3,1164.2 245.7,1188.0 254.1,1200.9 262.5,1211.2 270.8,1216.6 279.2,1218.1 287.6,1216.8 296.0,1217.1 304.4,1218.2 312.8,1222.4 321.2,1225.2 329.6,1224.0 337.9,1217.2 346.3,1205.6 354.7,1191.5 363.1,1175.8 371.5,1159.8 379.9,1142.9 388.3,1124.4 396.7,1106.7 405.1,1091.5 413.4,1078.5 421.8,1066.4 430.2,1055.6 438.6,1041.3 447.0,1023.7 455.4,1004.3 463.8,985.3 472.2,967.2 480.5,950.9 488.9,937.6 497.3,929.1 505.7,924.1 514.1,923.3 522.5,922.5 530.9,923.1 539.3,924.3 547.6,926.9 556.0,929.7 564.4,931.9 572.8,933.7 581.2,936.7 589.6,939.2 598.0,941.1 606.4,942.3 614.8,944.1 623.1,946.3 631.5,950.7 639.9,954.7 648.3,959.9 656.7,965.7 665.1,972.8 673.5,979.3 681.9,983.5 690.2,986.2 698.6,986.7 707.0,985.5 715.4,983.0 723.8,981.2 732.2,979.0 740.6,975.7 749.0,973.5 757.4,972.4 765.7,971.1 774.1,970.0 782.5,969.8 790.9,970.2 799.3,970.9 807.7,971.9 816.1,972.3 824.5,972.6 832.8,972.7 841.2,973.7 849.6,974.6 858.0,975.4 866.4,976.3 874.8,976.9 883.2,978.3 891.6,980.3 899.9,983.0 908.3,989.3 916.7,995.3 925.1,1002.1 933.5,1007.5 941.9,1011.5 950.3,1013.4 958.7,1014.6 967.1,1013.5 975.4,1011.2 983.8,1008.4 992.2,1006.4 1000.6,1005.2 1009.0,1007.0 1017.4,1011.8 1025.8,1018.9 1034.2,1024.8 1042.5,1030.1 1050.9,1034.4 1059.3,1037.7 1067.7,1039.7 1076.1,1042.7 1084.5,1047.4 1092.9,1051.7 1101.3,1054.4 1109.7,1056.1 1118.0,1056.7 1126.4,1056.2 1134.8,1055.0 1143.2,1052.7 1151.6,1049.3 1160.0,1044.2 1168.4,1038.7 1176.8,1033.8 1185.1,1028.4 1193.5,1022.2 1201.9,1014.9 1210.3,1009.0 1218.7,1005.3 1227.1,1004.0 1235.5,1003.9 1243.9,1004.3 1252.2,1004.7 1260.6,1004.6 1269.0,1004.1 1277.4,1004.1 1285.8,1003.4 1294.2,1003.8 1302.6,1003.4 1311.0,1003.0 1319.4,1008.3 1327.7,1013.9 1336.1,1020.8 1344.5,1027.5 1352.9,1034.6 1361.3,1041.1 1369.7,1045.0 1378.1,1047.4 1386.5,1050.5 1394.8,1052.6 1403.2,1052.5 1411.6,1048.1 1420.0,1040.4 1428.4,1030.3 1436.8,1022.0 1445.2,1014.6 1453.6,1007.6 1462.0,1004.8 1470.3,1003.9 1478.7,1007.6 1487.1,1014.6 1495.5,1020.0 1503.9,1024.8 1512.3,1029.7 1520.7,1038.2 1529.1,1048.5 1537.4,1060.7 1545.8,1075.6 1554.2,1090.6 1562.6,1108.2 1571.0,1125.2 1579.4,1137.0 1587.8,1144.0 1596.2,1146.1 1604.5,1144.2 1612.9,1140.4 1621.3,1134.7 1629.7,1127.8 1638.1,1120.2 1646.5,1112.1 1654.9,1104.5 1663.3,1097.3 1671.7,1090.4 1680.0,1084.4 1688.4,1082.1 1696.8,1083.3 1705.2,1086.2 1713.6,1093.1 1722.0,1100.1 1730.4,1104.7 1738.8,1107.1 1747.1,1107.0 1755.5,1105.0 1763.9,1102.2 1772.3,1099.9 1780.7,1098.4 1789.1,1098.8 1797.5,1100.4 1805.9,1101.8 1814.3,1101.9 1822.6,1101.1 1831.0,1100.6 1839.4,1099.0 1847.8,1096.5 1856.2,1093.8 1864.6,1092.8 1873.0,1092.7 1881.4,1093.2 1889.7,1098.0 1898.1,1103.3 1906.5,1107.5 1914.9,1110.3 1923.3,1111.6 1931.7,1110.3 1940.1,1107.4 1948.5,1104.7 1956.8,1104.0 1965.2,1103.6 1973.6,1105.8 1982.0,1111.9 1990.4,1122.6 1998.8,1132.3 2007.2,1139.4 2015.6,1145.6 2024.0,1151.0 2032.3,1158.7 2040.7,1167.7 2049.1,1176.7 2057.5,1183.9 2065.9,1190.1 2074.3,1193.8 2082.7,1197.3 2091.1,1198.8 2099.4,1196.9 2107.8,1194.6 2116.2,1193.5 2124.6,1192.4 2133.0,1192.8 2141.4,1192.1 2149.8,1190.9 2158.2,1191.8 2166.6,1191.7 2174.9,1190.9 2183.3,1189.4 2191.7,1190.2 2200.1,1193.6 2208.5,1196.5 2216.9,1198.0 2225.3,1200.7 2233.7,1204.1 2242.0,1210.6 2250.4,1216.7 2258.8,1223.0 2267.2,1228.0 2275.6,1235.1 2284.0,1245.9" fill="none" stroke="#f59e0b" stroke-width="2.6" stroke-linejoin="round"/>
</g>
<g clip-path="url(#c3)">
<path d="M191.7 1456.9H198.9V1475.2H191.7zM200.1 1458.0H207.3V1475.2H200.1zM208.5 1455.0H215.7V1475.2H208.5zM233.7 1447.9H240.9V1475.2H233.7zM250.5 1445.8H257.7V1475.2H250.5zM267.2 1455.0H274.4V1475.2H267.2zM317.6 1460.0H324.8V1475.2H317.6zM334.3 1458.9H341.5V1475.2H334.3zM342.7 1458.9H349.9V1475.2H342.7zM359.5 1446.8H366.7V1475.2H359.5zM367.9 1455.9H375.1V1475.2H367.9zM384.7 1456.9H391.9V1475.2H384.7zM393.1 1460.0H400.3V1475.2H393.1zM401.5 1460.0H408.7V1475.2H401.5zM409.8 1458.0H417.0V1475.2H409.8zM418.2 1456.9H425.4V1475.2H418.2zM435.0 1452.0H442.2V1475.2H435.0zM443.4 1455.0H450.6V1475.2H443.4zM451.8 1450.0H459.0V1475.2H451.8zM460.2 1452.0H467.4V1475.2H460.2zM468.6 1452.0H475.8V1475.2H468.6zM476.9 1446.8H484.1V1475.2H476.9zM485.3 1455.0H492.5V1475.2H485.3zM502.1 1456.9H509.3V1475.2H502.1zM510.5 1455.9H517.7V1475.2H510.5zM518.9 1272.0H526.1V1475.2H518.9zM552.4 1458.0H559.6V1475.2H552.4zM560.8 1458.0H568.0V1475.2H560.8zM569.2 1458.0H576.4V1475.2H569.2zM586.0 1458.9H593.2V1475.2H586.0zM594.4 1453.9H601.6V1475.2H594.4zM602.8 1451.0H610.0V1475.2H602.8zM619.5 1440.1H626.7V1475.2H619.5zM636.3 1453.9H643.5V1475.2H636.3zM653.1 1458.0H660.3V1475.2H653.1zM669.9 1455.0H677.1V1475.2H669.9zM678.3 1456.9H685.5V1475.2H678.3zM695.0 1456.9H702.2V1475.2H695.0zM703.4 1451.0H710.6V1475.2H703.4zM711.8 1456.9H719.0V1475.2H711.8zM728.6 1456.9H735.8V1475.2H728.6zM737.0 1461.9H744.2V1475.2H737.0zM762.1 1452.9H769.3V1475.2H762.1zM778.9 1456.9H786.1V1475.2H778.9zM787.3 1458.0H794.5V1475.2H787.3zM804.1 1455.0H811.3V1475.2H804.1zM812.5 1452.9H819.7V1475.2H812.5zM829.2 1448.9H836.4V1475.2H829.2zM846.0 1451.0H853.2V1475.2H846.0zM862.8 1451.0H870.0V1475.2H862.8zM871.2 1451.8H878.4V1475.2H871.2zM913.1 1458.9H920.3V1475.2H913.1zM929.9 1455.9H937.1V1475.2H929.9zM946.7 1455.9H953.9V1475.2H946.7zM963.5 1456.9H970.7V1475.2H963.5zM980.2 1455.0H987.4V1475.2H980.2zM997.0 1456.9H1004.2V1475.2H997.0zM1030.6 1455.0H1037.8V1475.2H1030.6zM1047.3 1455.0H1054.5V1475.2H1047.3zM1055.7 1458.0H1062.9V1475.2H1055.7zM1064.1 1458.0H1071.3V1475.2H1064.1zM1080.9 1456.9H1088.1V1475.2H1080.9zM1089.3 1458.9H1096.5V1475.2H1089.3zM1097.7 1458.9H1104.9V1475.2H1097.7zM1122.8 1458.0H1130.0V1475.2H1122.8zM1139.6 1452.9H1146.8V1475.2H1139.6zM1148.0 1455.0H1155.2V1475.2H1148.0zM1156.4 1455.9H1163.6V1475.2H1156.4zM1181.5 1451.8H1188.7V1475.2H1181.5zM1189.9 1443.0H1197.1V1475.2H1189.9zM1198.3 1453.9H1205.5V1475.2H1198.3zM1223.5 1452.9H1230.7V1475.2H1223.5zM1231.9 1456.9H1239.1V1475.2H1231.9zM1248.6 1455.9H1255.8V1475.2H1248.6zM1257.0 1452.9H1264.2V1475.2H1257.0zM1282.2 1451.8H1289.4V1475.2H1282.2zM1299.0 1450.8H1306.2V1475.2H1299.0zM1324.1 1455.0H1331.3V1475.2H1324.1zM1332.5 1453.9H1339.7V1475.2H1332.5zM1357.7 1453.9H1364.9V1475.2H1357.7zM1366.1 1455.0H1373.3V1475.2H1366.1zM1391.2 1452.9H1398.4V1475.2H1391.2zM1399.6 1452.9H1406.8V1475.2H1399.6zM1408.0 1451.8H1415.2V1475.2H1408.0zM1416.4 1451.8H1423.6V1475.2H1416.4zM1466.7 1452.9H1473.9V1475.2H1466.7zM1483.5 1452.9H1490.7V1475.2H1483.5zM1491.9 1455.0H1499.1V1475.2H1491.9zM1500.3 1458.0H1507.5V1475.2H1500.3zM1525.5 1451.8H1532.7V1475.2H1525.5zM1550.6 1456.9H1557.8V1475.2H1550.6zM1567.4 1453.9H1574.6V1475.2H1567.4zM1575.8 1455.0H1583.0V1475.2H1575.8zM1584.2 1456.9H1591.4V1475.2H1584.2zM1592.6 1458.9H1599.8V1475.2H1592.6zM1600.9 1465.0H1608.1V1475.2H1600.9zM1609.3 1458.0H1616.5V1475.2H1609.3zM1617.7 1458.9H1624.9V1475.2H1617.7zM1626.1 1458.0H1633.3V1475.2H1626.1zM1642.9 1456.9H1650.1V1475.2H1642.9zM1659.7 1458.9H1666.9V1475.2H1659.7zM1668.1 1458.0H1675.3V1475.2H1668.1zM1676.4 1456.9H1683.6V1475.2H1676.4zM1701.6 1458.0H1708.8V1475.2H1701.6zM1726.8 1446.8H1734.0V1475.2H1726.8zM1743.5 1458.9H1750.7V1475.2H1743.5zM1751.9 1466.9H1759.1V1475.2H1751.9zM1768.7 1460.9H1775.9V1475.2H1768.7zM1810.7 1455.0H1817.9V1475.2H1810.7zM1819.0 1456.9H1826.2V1475.2H1819.0zM1835.8 1456.9H1843.0V1475.2H1835.8zM1844.2 1455.9H1851.4V1475.2H1844.2zM1894.5 1455.0H1901.7V1475.2H1894.5zM1911.3 1456.9H1918.5V1475.2H1911.3zM1919.7 1458.9H1926.9V1475.2H1919.7zM1928.1 1458.0H1935.3V1475.2H1928.1zM1961.6 1455.9H1968.8V1475.2H1961.6zM1995.2 1455.0H2002.4V1475.2H1995.2zM2003.6 1456.9H2010.8V1475.2H2003.6zM2045.5 1458.1H2052.7V1475.2H2045.5zM2053.9 1458.1H2061.1V1475.2H2053.9zM2062.3 1459.9H2069.5V1475.2H2062.3zM2070.7 1458.1H2077.9V1475.2H2070.7zM2087.5 1458.1H2094.7V1475.2H2087.5zM2095.8 1456.9H2103.0V1475.2H2095.8zM2112.6 1453.9H2119.8V1475.2H2112.6zM2121.0 1456.9H2128.2V1475.2H2121.0zM2129.4 1453.9H2136.6V1475.2H2129.4zM2137.8 1451.2H2145.0V1475.2H2137.8zM2146.2 1451.2H2153.4V1475.2H2146.2zM2163.0 1453.9H2170.2V1475.2H2163.0zM2204.9 1456.9H2212.1V1475.2H2204.9zM2213.3 1456.9H2220.5V1475.2H2213.3zM2230.1 1456.0H2237.3V1475.2H2230.1z" fill="#00c896" fill-opacity="0.75"/>
<path d="M183.4 1459.9H190.6V1475.2H183.4zM216.9 1455.0H224.1V1475.2H216.9zM225.3 1450.8H232.5V1475.2H225.3zM242.1 1451.8H249.3V1475.2H242.1zM258.9 1448.9H266.1V1475.2H258.9zM275.6 1453.9H282.8V1475.2H275.6zM284.0 1458.9H291.2V1475.2H284.0zM292.4 1458.0H299.6V1475.2H292.4zM300.8 1460.0H308.0V1475.2H300.8zM309.2 1460.9H316.4V1475.2H309.2zM326.0 1455.9H333.2V1475.2H326.0zM351.1 1452.9H358.3V1475.2H351.1zM376.3 1456.9H383.5V1475.2H376.3zM426.6 1455.9H433.8V1475.2H426.6zM493.7 1451.0H500.9V1475.2H493.7zM527.3 1456.9H534.5V1475.2H527.3zM535.7 1451.0H542.9V1475.2H535.7zM544.0 1455.0H551.2V1475.2H544.0zM577.6 1455.9H584.8V1475.2H577.6zM611.2 1452.9H618.4V1475.2H611.2zM627.9 1455.9H635.1V1475.2H627.9zM644.7 1456.9H651.9V1475.2H644.7zM661.5 1452.9H668.7V1475.2H661.5zM686.6 1456.9H693.8V1475.2H686.6zM720.2 1455.9H727.4V1475.2H720.2zM745.4 1456.9H752.6V1475.2H745.4zM753.8 1456.9H761.0V1475.2H753.8zM770.5 1453.9H777.7V1475.2H770.5zM795.7 1456.9H802.9V1475.2H795.7zM820.9 1455.0H828.1V1475.2H820.9zM837.6 1451.8H844.8V1475.2H837.6zM854.4 1446.8H861.6V1475.2H854.4zM879.6 1452.9H886.8V1475.2H879.6zM888.0 1455.0H895.2V1475.2H888.0zM896.3 1453.9H903.5V1475.2H896.3zM904.7 1453.9H911.9V1475.2H904.7zM921.5 1458.0H928.7V1475.2H921.5zM938.3 1455.9H945.5V1475.2H938.3zM955.1 1455.0H962.3V1475.2H955.1zM971.8 1455.9H979.0V1475.2H971.8zM988.6 1456.9H995.8V1475.2H988.6zM1005.4 1456.9H1012.6V1475.2H1005.4zM1013.8 1458.0H1021.0V1475.2H1013.8zM1022.2 1460.9H1029.4V1475.2H1022.2zM1038.9 1456.9H1046.1V1475.2H1038.9zM1072.5 1458.0H1079.7V1475.2H1072.5zM1106.1 1456.9H1113.3V1475.2H1106.1zM1114.4 1456.9H1121.6V1475.2H1114.4zM1131.2 1455.0H1138.4V1475.2H1131.2zM1164.8 1455.9H1172.0V1475.2H1164.8zM1173.2 1455.0H1180.4V1475.2H1173.2zM1206.7 1453.9H1213.9V1475.2H1206.7zM1215.1 1455.0H1222.3V1475.2H1215.1zM1240.3 1455.0H1247.5V1475.2H1240.3zM1265.4 1453.9H1272.6V1475.2H1265.4zM1273.8 1451.8H1281.0V1475.2H1273.8zM1290.6 1452.9H1297.8V1475.2H1290.6zM1307.4 1451.8H1314.6V1475.2H1307.4zM1315.8 1450.0H1323.0V1475.2H1315.8zM1340.9 1450.0H1348.1V1475.2H1340.9zM1349.3 1450.0H1356.5V1475.2H1349.3zM1374.5 1451.8H1381.7V1475.2H1374.5zM1382.9 1443.9H1390.1V1475.2H1382.9zM1424.8 1452.9H1432.0V1475.2H1424.8zM1433.2 1451.8H1440.4V1475.2H1433.2zM1441.6 1450.8H1448.8V1475.2H1441.6zM1450.0 1452.9H1457.2V1475.2H1450.0zM1458.4 1452.9H1465.6V1475.2H1458.4zM1475.1 1450.8H1482.3V1475.2H1475.1zM1508.7 1456.9H1515.9V1475.2H1508.7zM1517.1 1450.0H1524.3V1475.2H1517.1zM1533.8 1453.9H1541.0V1475.2H1533.8zM1542.2 1455.9H1549.4V1475.2H1542.2zM1559.0 1451.8H1566.2V1475.2H1559.0zM1634.5 1458.9H1641.7V1475.2H1634.5zM1651.3 1456.9H1658.5V1475.2H1651.3zM1684.8 1455.9H1692.0V1475.2H1684.8zM1693.2 1455.9H1700.4V1475.2H1693.2zM1710.0 1455.9H1717.2V1475.2H1710.0zM1718.4 1458.0H1725.6V1475.2H1718.4zM1735.2 1458.9H1742.4V1475.2H1735.2zM1760.3 1463.9H1767.5V1475.2H1760.3zM1777.1 1460.0H1784.3V1475.2H1777.1zM1785.5 1461.9H1792.7V1475.2H1785.5zM1793.9 1458.9H1801.1V1475.2H1793.9zM1802.3 1455.9H1809.5V1475.2H1802.3zM1827.4 1458.0H1834.6V1475.2H1827.4zM1852.6 1455.0H1859.8V1475.2H1852.6zM1861.0 1448.9H1868.2V1475.2H1861.0zM1869.4 1453.9H1876.6V1475.2H1869.4zM1877.8 1453.9H1885.0V1475.2H1877.8zM1886.1 1455.0H1893.3V1475.2H1886.1zM1902.9 1455.0H1910.1V1475.2H1902.9zM1936.5 1456.9H1943.7V1475.2H1936.5zM1944.9 1455.9H1952.1V1475.2H1944.9zM1953.2 1455.0H1960.4V1475.2H1953.2zM1970.0 1452.9H1977.2V1475.2H1970.0zM1978.4 1451.8H1985.6V1475.2H1978.4zM1986.8 1452.9H1994.0V1475.2H1986.8zM2012.0 1456.9H2019.2V1475.2H2012.0zM2020.4 1453.9H2027.6V1475.2H2020.4zM2028.7 1456.0H2035.9V1475.2H2028.7zM2037.1 1458.1H2044.3V1475.2H2037.1zM2079.1 1456.9H2086.3V1475.2H2079.1zM2104.2 1455.1H2111.4V1475.2H2104.2zM2154.6 1455.1H2161.8V1475.2H2154.6zM2171.3 1456.0H2178.5V1475.2H2171.3zM2179.7 1456.9H2186.9V1475.2H2179.7zM2188.1 1456.9H2195.3V1475.2H2188.1zM2196.5 1456.9H2203.7V1475.2H2196.5zM2221.7 1455.1H2228.9V1475.2H2221.7zM2238.4 1450.0H2245.6V1475.2H2238.4zM2246.8 1456.0H2254.0V1475.2H2246.8zM2255.2 1456.9H2262.4V1475.2H2255.2zM2263.6 1458.1H2270.8V1475.2H2263.6zM2272.0 1458.1H2279.2V1475.2H2272.0zM2280.4 1456.0H2287.6V1475.2H2280.4z" fill="#ff4766" fill-opacity="0.75"/>
</g>
<path d="M2398.5 63.7h7M2398.5 238.0h7M2398.5 412.4h7M2398.5 586.7h7M2398.5 761.0h7M2398.5 921.0h7M2398.5 987.3h7M2398.5 1053.6h7M2398.5 1119.9h7M2398.5 1186.2h7M2398.5 1252.5h7M73.5 964.8h-7M73.5 1047.7h-7M73.5 1130.6h-7M73.5 1213.5h-7M2398.5 1475.2h7M2398.5 1431.9h7M2398.5 1388.6h7M2398.5 1345.3h7M2398.5 1302.0h7" stroke="#e5e7eb" stroke-width="1.6"/>
<path d="M2398.5 1475.2h7M2398.5 1431.9h7M2398.5 1388.6h7M2398.5 1345.3h7M2398.5 1302.0h7M187.0 1475.5v7M606.4 1475.5v7M1025.8 1475.5v7M1445.2 1475.5v7M1864.6 1475.5v7M2284.0 1475.5v7" stroke="#4b5577" stroke-width="1.6"/>
<text x="2412.12" y="246.00" font-family="'Liberation Mono', monospace" font-size="23.32" font-weight="normal" fill="#e5e7eb" textLength="63.18" lengthAdjust="spacingAndGlyphs" xml:space="preserve" >22000</text>
<text x="2412.12" y="420.35" font-family="'Liberation Mono', monospace" font-size="23.32" font-weight="normal" fill="#e5e7eb" textLength="63.18" lengthAdjust="spacingAndGlyphs" xml:space="preserve" >20000</text>
<text x="2412.08" y="594.70" font-family="'Liberation Mono', monospace" font-size="23.32" font-weight="normal" fill="#e5e7eb" textLength="63.22" lengthAdjust="spacingAndGlyphs" xml:space="preserve" >18000</text>
<text x="2412.08" y="769.05" font-family="'Liberation Mono', monospace" font-size="23.32" font-weight="normal" fill="#e5e7eb" textLength="63.22" lengthAdjust="spacingAndGlyphs" xml:space="preserve" >16000</text>
<text x="2411.61" y="929.60" font-family="'Liberation Mono', monospace" font-size="24.22" font-weight="normal" fill="#e5e7eb" textLength="38.92" lengthAdjust="spacingAndGlyphs" xml:space="preserve" >600</text>
<text x="2412.13" y="995.90" font-family="'Liberation Mono', monospace" font-size="24.22" font-weight="normal" fill="#e5e7eb" textLength="38.38" lengthAdjust="spacingAndGlyphs" xml:space="preserve" >400</text>
<text x="2411.68" y="1062.20" font-family="'Liberation Mono', monospace" font-size="24.22" font-weight="normal" fill="#e5e7eb" textLength="38.84" lengthAdjust="spacingAndGlyphs" xml:space="preserve" >200</text>
<text x="2411.73" y="1128.50" font-family="'Liberation Mono', monospace" font-size="24.22" font-weight="normal" fill="#e5e7eb" textLength="14.56" lengthAdjust="spacingAndGlyphs" xml:space="preserve" >0</text>
<text x="2412.79" y="1194.80" font-family="'Liberation Mono', monospace" font-size="24.22" font-weight="normal" fill="#e5e7eb" textLength="50.81" lengthAdjust="spacingAndGlyphs" xml:space="preserve" >−200</text>
<text x="2412.79" y="1261.10" font-family="'Liberation Mono', monospace" font-size="24.22" font-weight="normal" fill="#e5e7eb" textLength="50.81" lengthAdjust="spacingAndGlyphs" xml:space="preserve" >−400</text>
<text x="19.65" y="973.40" font-family="'Liberation Mono', monospace" font-size="24.22" font-weight="normal" fill="#e5e7eb" textLength="37.53" lengthAdjust="spacingAndGlyphs" xml:space="preserve" >400</text>
<text x="20.33" y="1056.30" font-family="'Liberation Mono', monospace" font-size="24.22" font-weight="normal" fill="#e5e7eb" textLength="37.77" lengthAdjust="spacingAndGlyphs" xml:space="preserve" >200</text>
<text x="45.58" y="1139.20" font-family="'Liberation Mono', monospace" font-size="24.22" font-weight="normal" fill="#e5e7eb" textLength="13.06" lengthAdjust="spacingAndGlyphs" xml:space="preserve" >0</text>
<text x="6.99" y="1222.10" font-family="'Liberation Mono', monospace" font-size="24.22" font-weight="normal" fill="#e5e7eb" textLength="50.71" lengthAdjust="spacingAndGlyphs" xml:space="preserve" >−200</text>
<text x="2412.36" y="1481.20" font-family="'Liberation Mono', monospace" font-size="17.79" font-weight="normal" fill="#4b5577" textLength="10.29" lengthAdjust="spacingAndGlyphs" xml:space="preserve" >0</text>
<text x="2412.14" y="1437.90" font-family="'Liberation Mono', monospace" font-size="17.79" font-weight="normal" fill="#4b5577" textLength="10.72" lengthAdjust="spacingAndGlyphs" xml:space="preserve" >2</text>
<text x="2412.57" y="1394.60" font-family="'Liberation Mono', monospace" font-size="17.79" font-weight="normal" fill="#4b5577" textLength="9.86" lengthAdjust="spacingAndGlyphs" xml:space="preserve" >4</text>
<text x="2412.09" y="1351.30" font-family="'Liberation Mono', monospace" font-size="17.79" font-weight="normal" fill="#4b5577" textLength="10.66" lengthAdjust="spacingAndGlyphs" xml:space="preserve" >6</text>
<text x="2412.27" y="1308.00" font-family="'Liberation Mono', monospace" font-size="17.79" font-weight="normal" fill="#4b5577" textLength="10.49" lengthAdjust="spacingAndGlyphs" xml:space="preserve" >8</text>
<text x="151.92" y="1505.00" font-family="'Liberation Mono', monospace" font-size="20.80" font-weight="normal" fill="#4b5577" textLength="68.09" lengthAdjust="spacingAndGlyphs" xml:space="preserve" >Mar 25</text>
<text x="570.88" y="1505.00" font-family="'Liberation Mono', monospace" font-size="20.80" font-weight="normal" fill="#4b5577" textLength="68.54" lengthAdjust="spacingAndGlyphs" xml:space="preserve" >Jun 25</text>
<text x="991.92" y="1505.00" font-family="'Liberation Mono', monospace" font-size="20.80" font-weight="normal" fill="#4b5577" textLength="66.88" lengthAdjust="spacingAndGlyphs" xml:space="preserve" >Aug 25</text>
<text x="1410.39" y="1505.00" font-family="'Liberation Mono', monospace" font-size="20.80" font-weight="normal" fill="#4b5577" textLength="67.83" lengthAdjust="spacingAndGlyphs" xml:space="preserve" >Oct 25</text>
<text x="1829.09" y="1505.00" font-family="'Liberation Mono', monospace" font-size="20.80" font-weight="normal" fill="#4b5577" textLength="68.57" lengthAdjust="spacingAndGlyphs" xml:space="preserve" >Jan 26</text>
<text x="2248.94" y="1505.00" font-family="'Liberation Mono', monospace" font-size="20.80" font-weight="normal" fill="#4b5577" textLength="68.12" lengthAdjust="spacingAndGlyphs" xml:space="preserve" >Mar 26</text>
<text x="2348.22" y="1256.50" font-family="'Liberation Mono', monospace" font-size="25.05" font-weight="normal" fill="#4b5577" textLength="49.24" lengthAdjust="spacingAndGlyphs" xml:space="preserve" >1e10</text>
<text x="0" y="0" font-family="'Liberation Mono', monospace" font-size="24.82" fill="#4b5577" textLength="51.44" lengthAdjust="spacingAndGlyphs" transform="translate(2487.6,1112.35) rotate(-90)">MACD</text>
<text x="2410.81" y="227.20" font-family="'Liberation Mono', monospace" font-size="19.58" font-weight="bold" fill="#ff4766" textLength="128.42" lengthAdjust="spacingAndGlyphs" xml:space="preserve" >R  22,189.34</text>
<polygon points="2412.6,324.6 2424.6,330.8 2412.6,337" fill="#f59e0b"/>
<text x="2436.30" y="336.00" font-family="'Liberation Mono', monospace" font-size="21.08" font-weight="bold" fill="#f59e0b" textLength="107.50" lengthAdjust="spacingAndGlyphs" xml:space="preserve" >20,948.36</text>
<text x="2189.83" y="1474.00" font-family="'Liberation Mono', monospace" font-size="20.44" font-weight="normal" fill="#283050" textLength="190.42" lengthAdjust="spacingAndGlyphs" xml:space="preserve" fill-opacity="0.85">aegis-finance.com</text>
<rect x="41" y="21.3" width="202" height="69.5" rx="15" ry="1.3" fill="#3b82f6"/>
<text x="114.40" y="60.10" font-family="'Liberation Mono', monospace" font-size="20.65" font-weight="bold" fill="#000000" textLength="56.06" lengthAdjust="spacingAndGlyphs" xml:space="preserve" >MACRO</text>
<text x="269.94" y="65.70" font-family="'Liberation Mono', monospace" font-size="40.23" font-weight="bold" fill="#e5e7eb" textLength="104.33" lengthAdjust="spacingAndGlyphs" xml:space="preserve" >^IXIC</text>
<text x="893.31" y="57.20" font-family="'Liberation Mono', monospace" font-size="33.78" font-weight="bold" fill="#e5e7eb" textLength="169.63" lengthAdjust="spacingAndGlyphs" xml:space="preserve" >20,948.36</text>
<text x="1276.26" y="55.00" font-family="'Liberation Mono', monospace" font-size="30.12" font-weight="bold" fill="#ff4766" textLength="98.72" lengthAdjust="spacingAndGlyphs" xml:space="preserve" >-2.15%</text>
<text x="2307.80" y="53.60" font-family="'Liberation Mono', monospace" font-size="34.61" font-weight="bold" fill="#3b82f6" textLength="92.16" lengthAdjust="spacingAndGlyphs" xml:space="preserve" >AEGIS</text>
<text x="2184.05" y="92.50" font-family="'Liberation Mono', monospace" font-size="18.98" font-weight="normal" fill="#4b5577" textLength="216.99" lengthAdjust="spacingAndGlyphs" xml:space="preserve" >Intelligence Financière</text>
<rect x="29" y="101" width="2400" height="3.8" fill="#3b82f6" fill-opacity="0.76"/>
</svg></body></html>
